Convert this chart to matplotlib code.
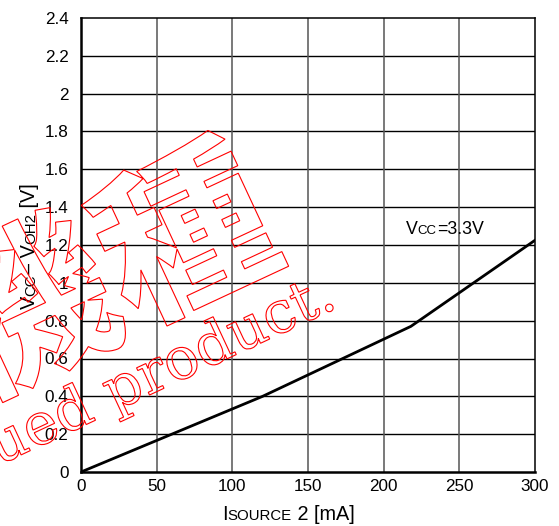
import matplotlib
matplotlib.use("Agg")
import matplotlib.pyplot as plt
import matplotlib.transforms as mtransforms
from matplotlib.textpath import TextPath
from matplotlib.patches import PathPatch
from matplotlib.font_manager import FontProperties

# data
i_source = [0, 120, 218, 300]          # mA
v_drop = [0.0, 0.40, 0.77, 1.225]      # V
x_ticks = [0, 50, 100, 150, 200, 250, 300]
y_ticks = [0, 0.2, 0.4, 0.6, 0.8, 1.0, 1.2, 1.4, 1.6, 1.8, 2.0, 2.2, 2.4]
y_tick_labels = ["0", "0.2", "0.4", "0.6", "0.8", "1", "1.2", "1.4", "1.6", "1.8", "2", "2.2", "2.4"]

W, H = 559, 526
plt.rcParams['font.family'] = ['Liberation Sans', 'DejaVu Sans']

fig = plt.figure(figsize=(W / 100, H / 100), dpi=100)
ax = fig.add_axes([81 / W, 1 - 472 / H, (535 - 81) / W, (472 - 18) / H])

ax.plot(i_source, v_drop, color='black', lw=2.0, solid_joinstyle='miter', zorder=3)
ax.set_xlim(0, 300)
ax.set_ylim(0, 2.4)
ax.set_xticks(x_ticks)
ax.set_xticklabels([str(t) for t in x_ticks])
ax.set_yticks(y_ticks)
ax.set_yticklabels(y_tick_labels)
ax.tick_params(length=0, labelsize=12.3, colors='black')
ax.tick_params(axis='y', pad=9)
ax.tick_params(axis='x', pad=5)

for y in y_ticks[1:-1]:
    ax.axhline(y, color='black', lw=1.0, zorder=1)
for x in x_ticks[1:-1]:
    ax.axvline(x, color='#555555', lw=1.1, zorder=1)
for side in ['top', 'right']:
    ax.spines[side].set_linewidth(1.1)
for side in ['left', 'bottom']:
    ax.spines[side].set_linewidth(1.8)

renderer = fig.canvas.get_renderer()
ident = mtransforms.IdentityTransform()


def pieces(parts, x, y, rotation=0):
    # lay out text runs of mixed size one after another, in pixels
    pos = 0
    for s, size in parts:
        if rotation:
            t = fig.text(x, y + pos, s, fontsize=size, rotation=90, rotation_mode='anchor',
                         ha='left', va='baseline', transform=ident)
            pos += t.get_window_extent(renderer).height
        else:
            t = fig.text(x + pos, y, s, fontsize=size, ha='left', va='baseline', transform=ident)
            pos += t.get_window_extent(renderer).width
    return pos


pieces([("I", 14.3), ("SOURCE", 10.8), (" 2 [mA]", 14.3)], 222, H - 520)
pieces([("V", 14.3), ("CC", 10.8), ("\u2013 V", 14.3), ("OH2", 10.8), (" [V]", 14.3)], 35, H - 309, rotation=90)
pieces([("V", 12.8), ("CC", 9.5), ("=3.3V", 12.8)], 406, H - 234)


# red outlined watermark
def outline(text, size, prop, rot, px, py, ax0, ay0):
    tp = TextPath((0, 0), text, size=size, prop=prop)
    if ax0 is None:
        ax0 = tp.get_extents().x1
    tr = mtransforms.Affine2D().translate(-ax0, -ay0).rotate_deg(rot).translate(px, H - py)
    patch = PathPatch(tp, transform=tr + ident, facecolor='none', edgecolor='red', lw=0.8, zorder=5)
    fig.patches.append(patch)


outline("Discontinued product.", 58, FontProperties(family='DejaVu Serif'), 25, 334, 309, None, 0)
cj = 172
outline("廢機種", cj, FontProperties(family='Noto Sans CJK TC', weight='bold'), 25, 182, 230,
        2.5 * cj, 0.38 * cj)

fig.savefig("out.png", dpi=100)
